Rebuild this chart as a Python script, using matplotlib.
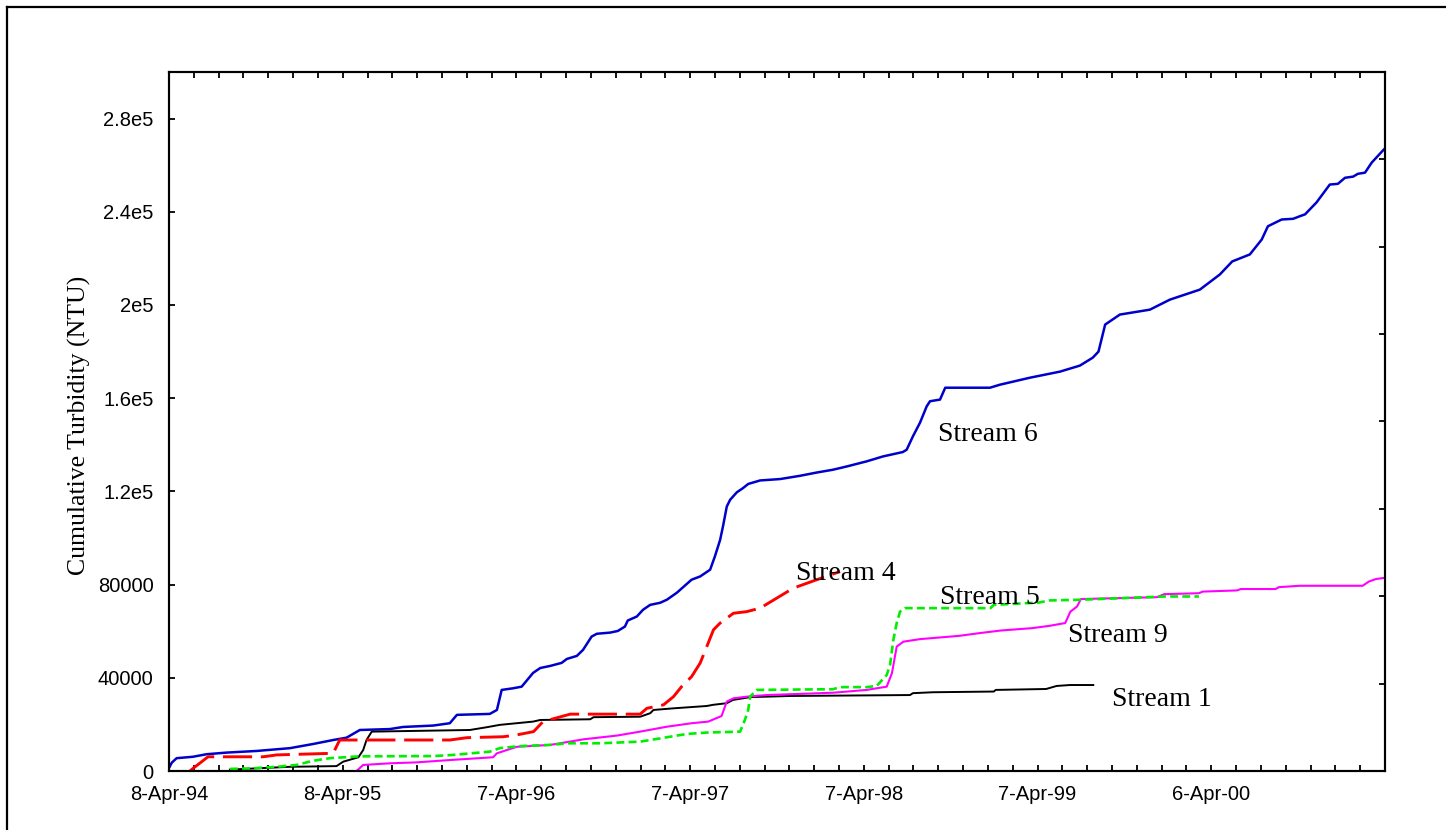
import numpy as np
import matplotlib
matplotlib.use("Agg")
import matplotlib.pyplot as plt
import matplotlib.dates as mdates
from matplotlib.lines import Line2D
from matplotlib.ticker import FixedLocator, FuncFormatter

# ---- data: days since 8-Apr-1994 and cumulative turbidity (NTU) ----
start_date = np.datetime64("1994-04-08")

s6_days = [0, 6, 16, 50, 79, 121, 184, 254, 303, 345, 373, 401, 464, 492, 555, 590,
           605, 674, 689, 699, 723, 741, 765, 780, 801, 825, 836, 857, 870, 888, 899,
           927, 943, 958, 964, 983, 996, 1011, 1032, 1046, 1067, 1088, 1098, 1116, 1137,
           1147, 1158, 1164, 1172, 1179, 1193, 1206, 1217, 1242, 1284, 1326, 1361, 1395,
           1424, 1466, 1500, 1542, 1550, 1563, 1578, 1592, 1599, 1620, 1631, 1725, 1746,
           1809, 1872, 1914, 1941, 1953, 1967, 1998, 2061, 2103, 2166, 2208, 2234, 2271,
           2296, 2309, 2338, 2362, 2376, 2387, 2411, 2439, 2456, 2471, 2488, 2498, 2513,
           2527, 2551, 2555]
s6_vals = [1300, 3600, 5500, 6100, 7200, 7900, 8600, 9800, 11600, 13300, 14300, 17600,
           18000, 18900, 19500, 20500, 24100, 24500, 26200, 34800, 35500, 36200, 42100,
           44200, 45100, 46400, 48100, 49400, 52000, 57700, 58900, 59400, 60100, 62000,
           64600, 66300, 69200, 71300, 72200, 73500, 76500, 80300, 82100, 83500, 86400,
           92100, 99200, 105000, 113500, 116400, 119600, 121400, 123200, 124700, 125300,
           126700, 128100, 129300, 130700, 132900, 135000, 136900, 137900, 143600, 149500,
           156500, 158700, 159400, 164500, 164500, 165800, 168800, 171400, 174000, 177400,
           180000, 191600, 195900, 198000, 202300, 206600, 213100, 218700, 221700, 228100,
           233800, 236700, 237000, 238100, 238900, 244000, 251700, 252000, 254600, 255100,
           256300, 256800, 261100, 266400, 267200]

s4_days = [44, 51, 82, 100, 198, 226, 345, 356, 359, 590, 626, 702, 731, 766, 786, 843,
           990, 1004, 1039, 1060, 1077, 1098, 1116, 1130, 1144, 1158, 1186, 1214, 1242,
           1277, 1312, 1361, 1410]
s4_vals = [0, 1200, 6100, 6100, 6100, 6900, 7600, 12200, 13300, 13300, 14300, 14700,
           15500, 16900, 21200, 24400, 24400, 26900, 28400, 31900, 36200, 40500, 46300,
           53400, 60600, 63500, 67700, 68400, 69900, 74200, 78500, 82100, 85600]

s1_days = [128, 254, 352, 366, 398, 408, 415, 426, 632, 668, 695, 765, 780, 885, 892,
           990, 1011, 1018, 1060, 1130, 1143, 1172, 1185, 1221, 1305, 1557, 1563, 1605,
           1733, 1737, 1843, 1865, 1893, 1942]
s1_vals = [600, 1800, 2100, 4000, 5900, 9000, 13300, 16900, 17600, 18800, 19800, 21200,
           21900, 22200, 23100, 23300, 24800, 26200, 26900, 27900, 28400, 29100, 30500,
           31700, 32200, 32600, 33400, 33800, 34100, 34800, 35200, 36500, 36900, 36900]

s5_days = [128, 170, 226, 268, 303, 338, 401, 555, 597, 674, 695, 738, 801, 836, 906,
           990, 1032, 1088, 1130, 1200, 1210, 1217, 1221, 1235, 1395, 1410, 1466, 1487,
           1508, 1515, 1522, 1529, 1536, 1547, 1726, 1733, 1828, 1850, 1916, 2091, 2164]
s5_vals = [900, 1100, 1800, 2600, 4400, 5500, 6300, 6400, 6900, 8300, 9800, 10700,
           11200, 11900, 11900, 12600, 14000, 15900, 16500, 16900, 21900, 26200, 31900,
           34800, 35100, 36000, 36000, 36500, 41200, 45500, 56300, 63500, 68400, 69900,
           69900, 71300, 72300, 73200, 73500, 74900, 74900]

s9_days = [394, 408, 464, 520, 590, 681, 689, 731, 801, 871, 941, 990, 1046, 1098, 1133,
           1161, 1172, 1186, 1214, 1256, 1396, 1466, 1508, 1519, 1529, 1543, 1578, 1660,
           1704, 1748, 1813, 1850, 1883, 1894, 1908, 1916, 2076, 2091, 2164, 2172, 2244,
           2252, 2325, 2332, 2376, 2508, 2521, 2536, 2551, 2555]
s9_vals = [0, 2600, 3300, 3700, 4700, 5900, 7600, 10400, 11200, 13600, 15200, 16900,
           19000, 20500, 21200, 23600, 29800, 31200, 31900, 32600, 33600, 34800, 36200,
           42000, 53400, 55500, 56600, 58000, 59200, 60300, 61300, 62300, 63500, 68400,
           70600, 73800, 74600, 75900, 76300, 77000, 77500, 78100, 78100, 78900, 79500,
           79500, 81300, 82400, 82800, 83000]

stream_names = ["Stream 6", "Stream 4", "Stream 5", "Stream 9", "Stream 1"]
y_tick_values = [0, 40000, 80000, 120000, 160000, 200000, 240000, 280000]
y_tick_labels = ["0", "40000", "80000", "1.2e5", "1.6e5", "2e5", "2.4e5", "2.8e5"]


def to_dates(days):
    return start_date + np.array(days).astype("timedelta64[D]")


SANS = ["Liberation Sans", "DejaVu Sans"]
SERIF = ["Liberation Serif", "DejaVu Serif"]

fig = plt.figure(figsize=(14.46, 8.30), dpi=100)
ax = fig.add_axes([169 / 1446, 1 - 771 / 830, (1385 - 169) / 1446, (771 - 72) / 830])

ax.plot(to_dates(s6_days), s6_vals, color="#0000cc", lw=1.8)
ax.plot(to_dates(s1_days), s1_vals, color="black", lw=1.4)
ax.plot(to_dates(s9_days), s9_vals, color="#ff00ff", lw=1.5)
ax.plot(to_dates(s5_days), s5_vals, color="#00ee00", lw=1.9, dashes=(3, 1.6))
ax.plot(to_dates(s4_days), s4_vals, color="#ff0000", lw=2.1, dashes=(10, 3))

# axis ranges and ticks
x0 = start_date
x1 = start_date + np.timedelta64(7 * 365, "D")
ax.set_xlim(mdates.date2num(x0), mdates.date2num(x1))
ax.set_ylim(0, 300000)

major_x = [mdates.date2num(start_date + np.timedelta64(365 * k, "D")) for k in range(7)]
minor_x = list(np.linspace(mdates.date2num(x0), mdates.date2num(x1), 50))
ax.xaxis.set_major_locator(FixedLocator(major_x))
ax.xaxis.set_minor_locator(FixedLocator(minor_x))


def date_label(v, pos):
    d = mdates.num2date(v)
    return f"{d.day}-{d.strftime('%b-%y')}"


ax.xaxis.set_major_formatter(FuncFormatter(date_label))
ax.set_yticks(y_tick_values)
ax.set_yticklabels(y_tick_labels)

ax.tick_params(axis="both", which="both", direction="in", width=1.3, length=4.5,
               top=True, right=False, labelsize=14.5)
ax.tick_params(axis="x", which="major", pad=10)
ax.tick_params(axis="y", which="major", pad=11)
for lab in ax.get_xticklabels() + ax.get_yticklabels():
    lab.set_fontfamily(SANS)

# right-hand axis ticks (eighths of the range, unlabelled)
axr = ax.twinx()
axr.set_ylim(0, 300000)
axr.set_yticks(np.linspace(0, 300000, 9))
axr.tick_params(axis="y", direction="in", width=1.3, length=4.5, labelright=False)

for a in (ax, axr):
    for sp in a.spines.values():
        sp.set_linewidth(1.5)

# stream labels
label_pos = {
    "Stream 6": (1616, 144300),
    "Stream 4": (1317, 84600),
    "Stream 5": (1620, 74300),
    "Stream 9": (1889, 58000),
    "Stream 1": (1981, 30900),
}
for name in stream_names:
    d, v = label_pos[name]
    ax.text(mdates.date2num(start_date + np.timedelta64(d, "D")), v, name,
            fontsize=20, family=SERIF, ha="left", va="center")

fig.text(79 / 1446, 1 - 425 / 830, "Cumulative Turbidity (NTU)", rotation=90,
         ha="center", va="center", fontsize=18.5, family=SERIF)

# outer frame (top and left edges)
fig.add_artist(Line2D([7 / 1446, 1.0], [1 - 7 / 830, 1 - 7 / 830],
                      transform=fig.transFigure, color="black", lw=1.6))
fig.add_artist(Line2D([7 / 1446, 7 / 1446], [0.0, 1 - 7 / 830],
                      transform=fig.transFigure, color="black", lw=1.6))

fig.savefig("out.png", dpi=100)
